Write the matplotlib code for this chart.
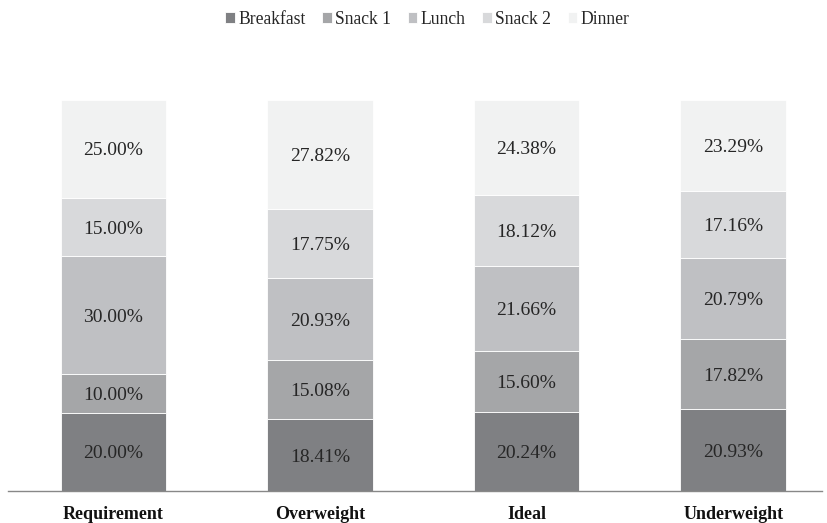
import matplotlib
matplotlib.use("Agg")
import matplotlib.pyplot as plt
import numpy as np

plt.rcParams["font.family"] = ["Liberation Serif", "DejaVu Serif"]

groups = ["Requirement", "Overweight", "Ideal", "Underweight"]
meals = ["Breakfast", "Snack 1", "Lunch", "Snack 2", "Dinner"]
breakfast = [20.00, 18.41, 20.24, 20.93]
snack1 = [10.00, 15.08, 15.60, 17.82]
lunch = [30.00, 20.93, 21.66, 20.79]
snack2 = [15.00, 17.75, 18.12, 17.16]
dinner = [25.00, 27.82, 24.38, 23.29]

colors = ["#7f8083", "#a5a6a8", "#bfc0c3", "#d8d9db", "#f1f2f2"]

fig = plt.figure(figsize=(8.28, 5.23), dpi=100)
ax = fig.add_axes([8 / 828, 1 - 491 / 523, 814 / 828, 391 / 523])

x = np.arange(len(groups))
bottom = np.zeros(len(groups))
for name, vals, col in zip(meals, [breakfast, snack1, lunch, snack2, dinner], colors):
    vals = np.array(vals)
    ax.bar(x, vals, width=0.51, bottom=bottom, color=col, label=name,
           edgecolor="white", linewidth=0.6)
    for xi, b, v in zip(x, bottom, vals):
        ax.text(xi, b + v / 2, f"{v:.2f}%", ha="center", va="center_baseline",
                fontsize=14, color="#262626")
    bottom += vals

ax.set_xlim(-0.51, 3.43)
ax.set_ylim(0, 100)
ax.set_yticks([])
ax.set_xticks(x)
ax.set_xticklabels(groups, fontweight="bold", fontsize=13, color="#111")
ax.tick_params(axis="x", length=0, pad=11)
for s in ["top", "right", "left"]:
    ax.spines[s].set_visible(False)
ax.spines["bottom"].set_color("#888888")
ax.spines["bottom"].set_linewidth(1.0)

fig.legend(loc="upper center", bbox_to_anchor=(0.516, 1.01), ncol=5, frameon=False,
           fontsize=12.7, handlelength=0.55, handleheight=0.55, handletextpad=0.17,
           columnspacing=0.95, labelcolor="#262626")

fig.savefig("out.png", dpi=100)
